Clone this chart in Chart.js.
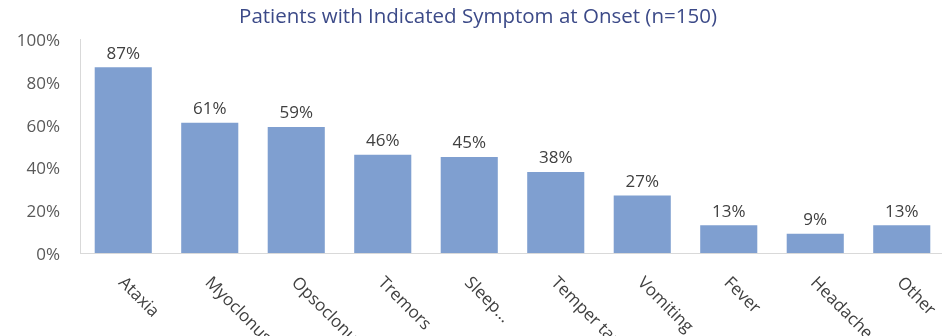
<!DOCTYPE html>
<html>
<head>
<meta charset="utf-8">
<script src="https://cdn.jsdelivr.net/npm/chart.js@4/dist/chart.umd.min.js"></script>
<style>
  html, body { margin: 0; padding: 0; background: #fff; overflow: hidden; }
  body { width: 942px; height: 336px; }
  #symptoms { display: block; }
</style>
</head>
<body>
<canvas id="symptoms" width="960" height="380"></canvas>
<script>
// symptoms at onset, share of patients (n=150)
const symptoms = ['Ataxia', 'Myoclonus', 'Opsoclonus', 'Tremors', 'Sleep...', 'Temper tantrums', 'Vomiting', 'Fever', 'Headache', 'Other'];
const percents = [87, 61, 59, 46, 45, 38, 27, 13, 9, 13];
const yTicks = [0, 20, 40, 60, 80, 100];

const FONT = '"Open Sans", "Noto Sans", sans-serif';

// value labels above the bars + slanted category names below the axis
const barLabels = {
    id: 'barLabels',
    afterDraw(chart) {
        const ctx = chart.ctx;
        const meta = chart.getDatasetMeta(0);
        const xScale = chart.scales.x;
        const yBase = chart.chartArea.bottom;
        ctx.save();
        ctx.fillStyle = '#404040';
        ctx.font = '17px ' + FONT;
        ctx.textAlign = 'center';
        ctx.textBaseline = 'bottom';
        meta.data.forEach(function (bar, i) {
            ctx.fillText(percents[i] + '%', bar.x, bar.y - 5);
        });
        ctx.textAlign = 'left';
        ctx.textBaseline = 'top';
        symptoms.forEach(function (name, i) {
            const x = xScale.getPixelForValue(i);
            ctx.save();
            ctx.translate(x + 4, yBase + 21);
            ctx.rotate(Math.PI / 4);
            ctx.fillText(name, 0, 0);
            ctx.restore();
        });
        ctx.restore();
    }
};

const myChart = new Chart(document.getElementById('symptoms'), {
    type: 'bar',
    data: {
        labels: symptoms,
        datasets: [{
            data: percents,
            backgroundColor: '#7f9fd0',
            borderWidth: 0,
            barPercentage: 0.66,
            categoryPercentage: 1.0
        }]
    },
    options: {
        responsive: false,
        animation: false,
        layout: { padding: { left: 11, right: 15, top: 0, bottom: 127 } },
        plugins: {
            legend: { display: false },
            tooltip: { enabled: false },
            title: {
                display: true,
                text: 'Patients with Indicated Symptom at Onset (n=150)',
                color: '#3c4a88',
                font: { family: FONT, size: 20.5, weight: 'normal', lineHeight: 1.2 },
                padding: { top: 5, bottom: 10 }
            }
        },
        scales: {
            x: {
                grid: { display: false },
                border: { display: true, color: '#d9d9d9', width: 1 },
                ticks: { display: false },
                afterFit(scale) { scale.height = 0; }
            },
            y: {
                min: 0,
                max: 100,
                grid: { display: false, drawTicks: false },
                border: { display: true, color: '#d9d9d9', width: 1 },
                afterBuildTicks(scale) {
                    scale.ticks = yTicks.map(function (v) { return { value: v }; });
                },
                afterFit(scale) { scale.width = 69; },
                ticks: {
                    padding: 20,
                    labelOffset: 2,
                    color: '#595959',
                    font: { family: FONT, size: 17 },
                    callback: function (v) { return v + '%'; }
                }
            }
        }
    },
    plugins: [barLabels]
});
</script>
</body>
</html>
